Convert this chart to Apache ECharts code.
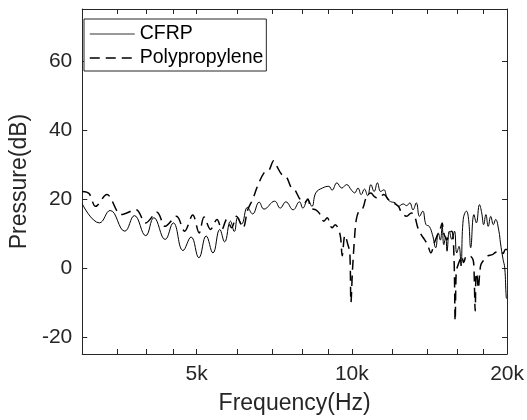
<!DOCTYPE html>
<html>
<head>
<meta charset="utf-8">
<script src="https://cdn.jsdelivr.net/npm/echarts@6/dist/echarts.min.js"></script>
<style>
  html, body { margin: 0; padding: 0; background: #fff; }
  #chart { width: 527px; height: 420px; }
</style>
</head>
<body>
<div id="chart"></div>
<script>
// Frequency (Hz) and pressure (dB)
const freqCFRP = [3000, 3239, 3398, 3627, 3787, 3983, 4131, 4344, 4505, 4705, 4878, 5050, 5217, 5378, 5544, 5666, 5815, 5917, 6008, 6113, 6274, 6420, 6610, 6755, 7085, 7262, 7448, 7694, 7914, 8035, 8212, 8366, 8513, 8764, 9023, 9153, 9354, 9559, 9768, 9983, 10127, 10277, 10426, 10576, 10733, 10888, 11045, 11209, 11371, 11535, 11707, 11876, 12136, 12311, 12581, 12768, 12952, 13139, 13335, 13527, 13722, 13926, 14127, 14331, 14544, 14709, 14850, 14966, 15077, 15209, 15295, 15455, 15630, 15815, 15973, 16140, 16281, 16444, 16682, 16842, 17003, 17249, 17437, 17681, 17858, 18014, 18195, 18385, 18594, 18813, 19002, 19284, 19418, 19647, 19793, 19931, 20000];
const pressureCFRP = [18.5, 13.0, 16.6, 10.6, 15.1, 9.3, 14.5, 8.2, 13.0, 5.0, 8.9, 2.9, 9.2, 4.3, 11.1, 7.5, 13.5, 10.5, 14.6, 12.7, 17.5, 15.6, 19.0, 17.0, 19.3, 17.3, 19.1, 16.8, 19.1, 17.3, 19.7, 17.8, 21.7, 23.1, 23.6, 22.5, 24.6, 23.1, 24.1, 22.5, 21.7, 23.1, 21.2, 22.8, 20.9, 24.1, 22.1, 24.6, 22.1, 22.6, 20.2, 19.2, 18.8, 17.8, 18.5, 18.0, 18.8, 16.8, 18.8, 14.9, 16.4, 12.5, 12.0, 9.6, 5.8, 10.1, 8.0, 12.0, 6.7, 9.0, 4.8, 10.6, 8.2, 10.6, 4.3, 6.2, 0.5, 14.0, 16.4, 14.0, 5.8, 15.4, 13.0, 18.3, 15.9, 12.5, 15.4, 12.0, 14.9, 12.5, 14.0, 10.6, 7.2, 2.4, 0.0, -8.7, -9.0];

const freqPP = [3000, 3093, 3184, 3348, 3573, 3814, 3983, 4190, 4344, 4570, 4738, 4914, 5057, 5168, 5320, 5477, 5597, 5720, 5846, 5974, 6148, 6282, 6420, 6561, 6755, 6903, 7054, 7156, 7313, 7473, 7637, 7751, 7921, 8095, 8212, 8330, 8513, 8639, 8829, 8956, 9153, 9285, 9488, 9579, 9697, 9832, 9909, 9961, 10026, 10114, 10202, 10349, 10503, 10654, 10888, 11045, 11209, 11371, 11535, 11788, 12047, 12311, 12494, 12768, 13048, 13236, 13427, 13627, 13824, 14023, 14232, 14437, 14645, 14863, 14966, 15077, 15295, 15455, 15630, 15780, 15863, 15938, 16043, 16211, 16324, 16480, 16682, 16930, 17174, 17249, 17346, 17422, 17497, 17589, 17704, 17804, 18069, 18329, 18731, 19002, 19418, 19647, 19845, 20000];
const pressurePP = [22.1, 21.5, 17.8, 21.2, 15.4, 16.8, 13.0, 16.1, 12.0, 14.9, 10.6, 15.3, 10.1, 14.7, 11.1, 14.0, 11.1, 14.0, 11.6, 14.9, 11.6, 16.8, 19.8, 23.6, 27.5, 28.2, 31.0, 29.4, 27.0, 26.2, 23.1, 22.6, 20.0, 18.8, 19.9, 17.3, 16.8, 15.9, 13.5, 14.5, 11.6, 12.5, 9.6, 3.5, 9.4, 6.5, 4.5, -10.0, -1.0, 8.0, 14.0, 16.8, 17.3, 20.2, 21.7, 20.7, 20.2, 20.7, 21.2, 19.7, 18.8, 17.8, 15.9, 14.9, 15.9, 14.9, 11.6, 9.6, 8.2, 6.7, 4.3, 7.0, 9.4, 11.6, 13.0, 10.0, 8.2, 10.1, 10.6, 3.0, -15.4, -1.0, 0.5, 2.4, 3.4, 1.5, 3.4, 3.4, 2.4, 0.0, -12.5, -1.5, -2.4, -6.0, -1.4, 1.0, 2.4, 3.4, 3.8, 4.5, 4.8, 4.1, 5.3, 5.3];

const seriesNames = ['CFRP', 'Polypropylene'];
const xTickValues = [3500, 4000, 4500, 5000, 6000, 7000, 8000, 9000, 10000, 12000, 14000, 16000, 18000, 20000];
const xLabelValues = [5000, 10000, 20000];
const yTickValues = [-20, 0, 20, 40, 60];

const axisColor = '#262626';
const font = 'Liberation Sans, Arial, Helvetica, sans-serif';

function pairs(xs, ys) { return xs.map((x, i) => [x, ys[i]]); }

const chart = echarts.init(document.getElementById('chart'), null, { renderer: 'canvas' });

const xBase = {
  type: 'log', logBase: 10, min: 3000, max: 20000,
  axisLine: { show: true, onZero: false, lineStyle: { color: axisColor, width: 1 } },
  axisTick: { show: true, inside: true, length: 5, customValues: xTickValues, lineStyle: { color: axisColor } },
  splitLine: { show: false },
  minorTick: { show: false },
  minorSplitLine: { show: false }
};
const yBase = {
  type: 'value', min: -25, max: 75,
  axisLine: { show: true, onZero: false, lineStyle: { color: axisColor, width: 1 } },
  axisTick: { show: true, inside: true, length: 5, customValues: yTickValues, lineStyle: { color: axisColor } },
  splitLine: { show: false }
};

chart.setOption({
  animation: false,
  backgroundColor: '#fff',
  textStyle: { fontFamily: font },
  grid: { left: 72, right: 17, top: 9, bottom: 65, containLabel: false },
  legend: {
    data: [
      { name: seriesNames[0], lineStyle: { width: 1, color: '#333' } },
      { name: seriesNames[1], lineStyle: { width: 1.5, color: '#000' } }
    ],
    orient: 'vertical',
    left: 84, top: 19,
    padding: [5, 3, 3, 5],
    itemGap: 4,
    itemWidth: 45,
    itemHeight: 14,
    borderColor: axisColor,
    borderWidth: 1,
    backgroundColor: '#fff',
    itemStyle: { opacity: 0, borderWidth: 0 },
    textStyle: { fontSize: 19.5, color: '#000', fontFamily: font }
  },
  xAxis: [
    Object.assign({}, xBase, {
      position: 'bottom',
      axisLabel: {
        show: true, customValues: xLabelValues, margin: 10,
        fontSize: 21, color: axisColor, fontFamily: font,
        formatter: v => Math.round(v / 1000) + 'k'
      },
      name: 'Frequency(Hz)', nameLocation: 'middle', nameGap: 38,
      nameTextStyle: { fontSize: 23, color: axisColor, fontFamily: font }
    }),
    Object.assign({}, xBase, { position: 'top', axisLabel: { show: false } })
  ],
  yAxis: [
    Object.assign({}, yBase, {
      position: 'left',
      axisLabel: { show: true, customValues: yTickValues, margin: 10, fontSize: 21, color: axisColor, fontFamily: font },
      name: 'Pressure(dB)', nameLocation: 'middle', nameGap: 42,
      nameTextStyle: { fontSize: 23, color: axisColor, fontFamily: font }
    }),
    Object.assign({}, yBase, { position: 'right', axisLabel: { show: false } })
  ],
  series: [
    {
      name: seriesNames[0], type: 'line', xAxisIndex: 0, yAxisIndex: 0,
      data: pairs(freqCFRP, pressureCFRP),
      symbol: 'none', showSymbol: false, smooth: 0.45,
      lineStyle: { color: '#000', width: 1, type: 'solid' },
      itemStyle: { color: '#000' }
    },
    {
      name: seriesNames[1], type: 'line', xAxisIndex: 0, yAxisIndex: 0,
      data: pairs(freqPP, pressurePP),
      symbol: 'none', showSymbol: false, smooth: 0.35,
      lineStyle: { color: '#000', width: 1.5, type: [10, 6] },
      itemStyle: { color: '#000' }
    }
  ]
});
</script>
</body>
</html>
